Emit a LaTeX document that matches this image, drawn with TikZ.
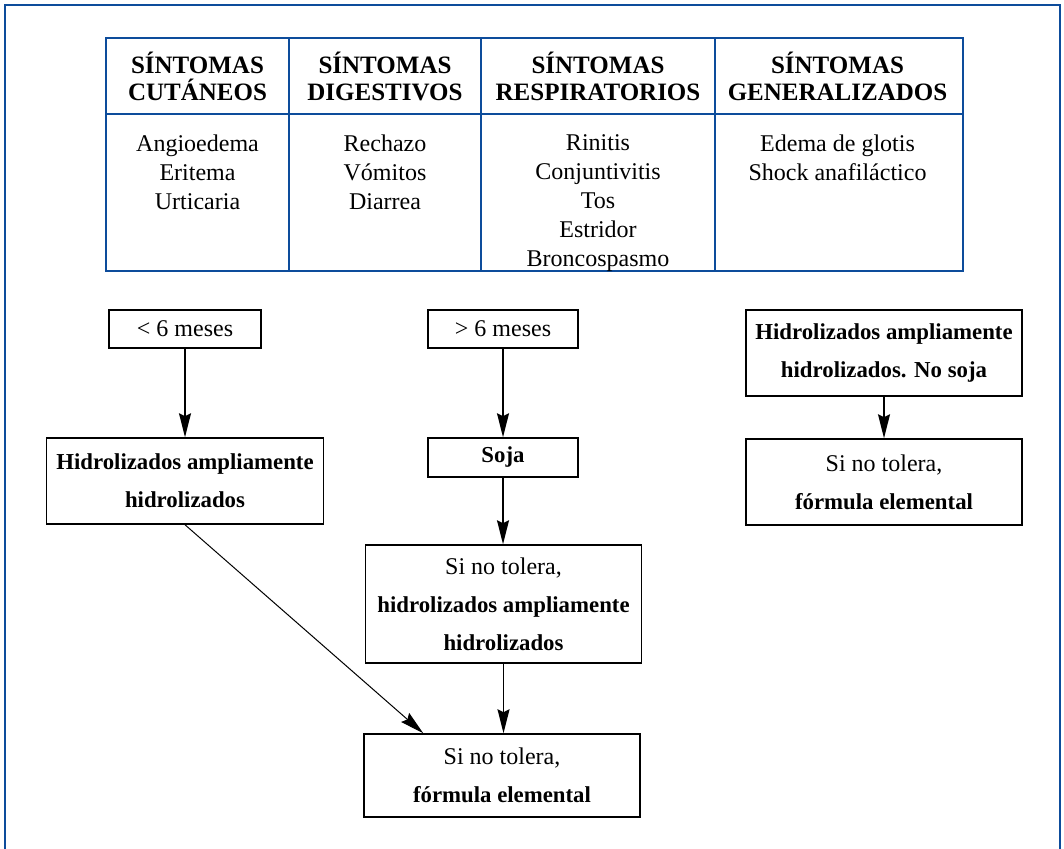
\documentclass[tikz,border=0pt]{standalone}
\usepackage{fontspec}
\setmainfont{Liberation Serif}
\usetikzlibrary{arrows.meta}

\definecolor{fblue}{HTML}{0D4C9B}

\begin{document}
\begin{tikzpicture}[x=0.5pt,y=-0.5pt,
    headtxt/.style={align=center,inner sep=0pt,font=\fontsize{12.5}{13.5}\selectfont\bfseries},
    bodytxt/.style={align=center,inner sep=0pt,anchor=north,font=\fontsize{12}{14.5}\selectfont},
    fbox/.style={draw,line width=0.75pt,align=center,inner sep=0pt,font=\fontsize{12}{19}\selectfont},
    arr/.style={line width=0.75pt,-{Stealth[length=12pt,width=6pt,inset=1.5pt]}}]
  \useasboundingbox (0,0) rectangle (1064,848);
  % outer frame, open at the bottom
  \draw[fblue,line width=1pt] (5,860) -- (5,5) -- (1060,5) -- (1060,860);

  % symptom table
  \draw[fblue,line width=1pt] (106,38) rectangle (963,271);
  \draw[fblue,line width=1pt] (106,114) -- (963,114);
  \draw[fblue,line width=1pt] (289,38) -- (289,271);
  \draw[fblue,line width=1pt] (481,38) -- (481,271);
  \draw[fblue,line width=1pt] (715,38) -- (715,271);

  \node[headtxt] (hcut) at (197.5,76.5) {SÍNTOMAS\\CUTÁNEOS};
  \node[headtxt] (hdig) at (385,76.5) {SÍNTOMAS\\DIGESTIVOS};
  \node[headtxt] (hres) at (598,76.5) {SÍNTOMAS\\RESPIRATORIOS};
  \node[headtxt] (hgen) at (837.5,76.5) {SÍNTOMAS\\GENERALIZADOS};

  \node[bodytxt] (bcut) at (197.5,134) {Angioedema\\Eritema\\Urticaria};
  \node[bodytxt] (bdig) at (385,134) {Rechazo\\Vómitos\\Diarrea};
  \node[bodytxt] (bres) at (598,134) {Rinitis\\Conjuntivitis\\Tos\\Estridor\\Broncospasmo};
  \node[bodytxt] (bgen) at (837.5,134) {Edema de glotis\\Shock anafiláctico};

  % feeding flowchart
  \newcommand\bt[1]{{\fontsize{11.4}{19}\selectfont\bfseries #1}}
  \node[fbox,minimum width=76pt,minimum height=19pt] (menos) at (185,329) {< 6 meses};
  \node[fbox,minimum width=75pt,minimum height=19pt] (mas) at (503,329) {> 6 meses};
  \node[fbox,minimum width=138.5pt,minimum height=43pt] (hidro) at (185,481)
    {\bt{Hidrolizados ampliamente}\\\bt{hidrolizados}};
  \node[fbox,minimum width=75pt,minimum height=19.5pt] (soja) at (503,457.5) {\bt{Soja}};
  \node[fbox,minimum width=138pt,minimum height=59pt] (notol) at (503.5,604)
    {Si no tolera,\\\bt{hidrolizados ampliamente}\\\bt{hidrolizados}};
  \node[fbox,minimum width=138pt,minimum height=41.5pt] (elem) at (502,775.5)
    {Si no tolera,\\\bt{fórmula elemental}};
  \node[fbox,minimum width=138pt,minimum height=43pt] (nosoja) at (884,353)
    {\bt{Hidrolizados ampliamente}\\\bt{hidrolizados. No soja}};
  \node[fbox,minimum width=138pt,minimum height=43pt] (elemb) at (884,482)
    {Si no tolera,\\\bt{fórmula elemental}};

  \draw[arr] (menos) -- (hidro);
  \draw[arr] (mas) -- (soja);
  \draw[arr] (soja) -- (notol.north -| soja);
  \draw[arr] (notol) -- (elem.north -| notol);
  \draw[arr,line width=0.5pt] (hidro.south) -- ([xshift=30pt]elem.north west);
  \draw[arr] (nosoja) -- (elemb);
\end{tikzpicture}
\end{document}
